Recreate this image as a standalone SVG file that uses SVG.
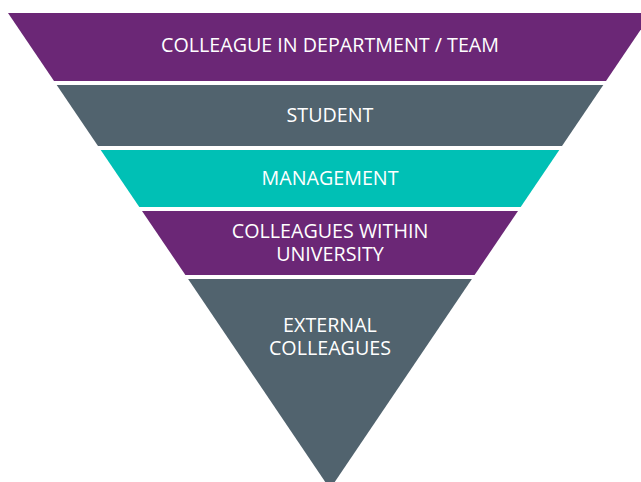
<svg xmlns="http://www.w3.org/2000/svg" width="641" height="482" viewBox="0 0 641 482">
<style>
.purple{fill:#6B2776}
.gray{fill:#51636E}
.teal{fill:#00C0B5}
text{font-family:"Open Sans","Noto Sans","Liberation Sans",sans-serif;font-size:19.7px;fill:#FFFFFF;text-anchor:middle}
</style>
<rect width="641" height="482" fill="#FFFFFF"/>
<g id="band1">
<polygon class="purple" points="8,13 652,13 606,81 54,81"/>
<text x="330" y="52">COLLEAGUE IN DEPARTMENT / TEAM</text>
</g>
<g id="band2">
<polygon class="gray" points="56.7,85 603.3,85 562,146 98,146"/>
<text x="330" y="122">STUDENT</text>
</g>
<g id="band3">
<polygon class="teal" points="100.7,150 559.3,150 520.7,207 139.3,207"/>
<text x="330" y="185">MANAGEMENT</text>
</g>
<g id="band4">
<polygon class="purple" points="142,211 518,211 474.6,275 185.4,275"/>
<text x="330" y="237.5">COLLEAGUES WITHIN</text>
<text x="330" y="260.5">UNIVERSITY</text>
</g>
<g id="band5">
<polygon class="gray" points="188.1,279 471.9,279 330,489"/>
<text x="330" y="332">EXTERNAL</text>
<text x="330" y="355">COLLEAGUES</text>
</g>
<g id="connectors"/>
</svg>
